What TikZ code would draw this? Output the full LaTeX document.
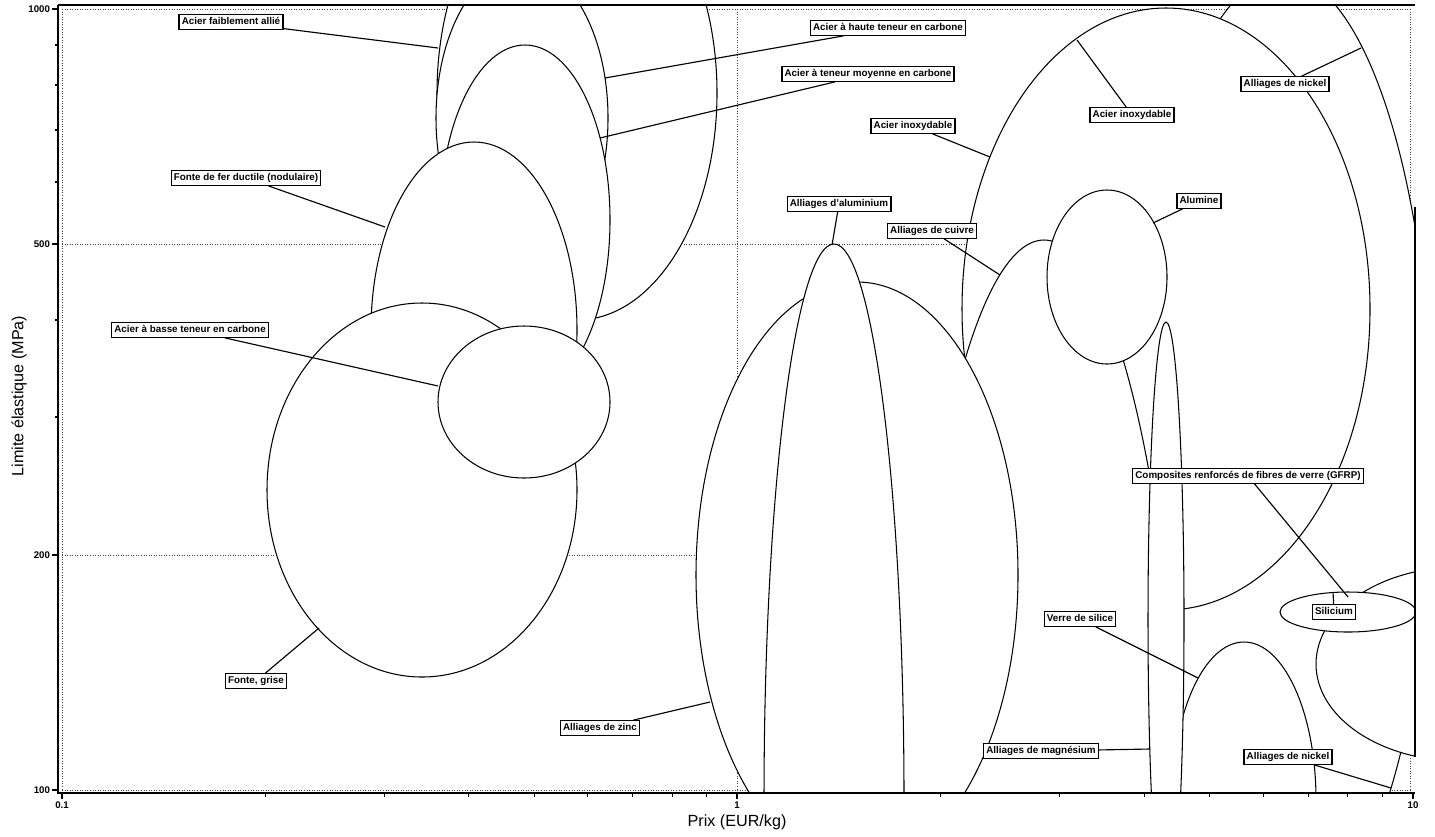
\documentclass[tikz,border=0pt]{standalone}
\usepackage{fontspec}
\setmainfont{Liberation Sans}
\usetikzlibrary{positioning}

\begin{document}
\begin{tikzpicture}[x=0.02cm,y=-0.02cm,
    bubble/.style={draw=black,fill=white,line width=0.6pt},
    lbl/.style={draw=black,fill=white,line width=0.75pt,inner sep=1.5pt,
      text height=4.1pt,text depth=1.1pt,font=\bfseries\fontsize{5.6}{6}\selectfont},
    leader/.style={line width=0.65pt},
    grille/.style={densely dotted,line width=0.45pt,black!75},
    ticklbl/.style={font=\bfseries\fontsize{5.5}{6}\selectfont,inner sep=1pt}]
  \useasboundingbox (0,0) rectangle (1435,836);
  % grid (decades)
  \foreach \gx in {62,737,1410} \draw[grille] (\gx,9) -- (\gx,790);
  \foreach \gy in {9,244,555,790} \draw[grille] (62,\gy) -- (1410,\gy);
  % bubbles, back to front
  \begin{scope}
    \clip (58,5) rectangle (1415,793);
    % steels and cast irons
    \filldraw[bubble] (577,93) ellipse [x radius=140, y radius=227];
    \filldraw[bubble] (522,118) ellipse [x radius=86, y radius=153];
    \filldraw[bubble] (525,220) ellipse [x radius=85, y radius=175];
    \filldraw[bubble] (474,330) ellipse [x radius=103, y radius=188];
    \filldraw[bubble] (422,490) ellipse [x radius=155, y radius=187];
    \filldraw[bubble] (524,402) ellipse [x radius=86, y radius=76];
    % nickel, stainless, copper, alumina
    \filldraw[bubble] (1283,455) ellipse [x radius=150, y radius=480];
    \filldraw[bubble] (1166,309) ellipse [x radius=204, y radius=301];
    \filldraw[bubble] (1044,936) ellipse [x radius=141, y radius=696];
    \filldraw[bubble] (1107,277) ellipse [x radius=60, y radius=87];
    % light alloys, glass, composites
    \filldraw[bubble] (857,575) ellipse [x radius=161, y radius=293];
    \filldraw[bubble] (834,800) ellipse [x radius=70, y radius=556];
    \filldraw[bubble] (1244,800) ellipse [x radius=72, y radius=158];
    \filldraw[bubble] (1166,620) ellipse [x radius=18, y radius=298];
    \filldraw[bubble] (1460,664) ellipse [x radius=144, y radius=97];
    \filldraw[bubble] (1348,612) ellipse [x radius=68, y radius=20];
  \end{scope}
  % axes
  \draw[line width=1.1pt] (58,5) -- (58,793) -- (1415,793);
  \draw[line width=0.8pt] (58,5) -- (1415,5);
  \draw[line width=0.7pt] (1415,207) -- (1415,757);
  \foreach \ty/\tv in {9/1000,244/500,555/200,790/100}{
    \draw[line width=0.8pt] (52,\ty) -- (58,\ty);
    \node[ticklbl,anchor=east] (y\tv) at (52,\ty) {\tv};
  }
  \foreach \ty in {45,85,130,182,320,417} \draw[line width=0.6pt] (55,\ty) -- (58,\ty);
  \foreach \tx/\tv/\tn in {62/0.1/a,737/1/b,1413/10/c}{
    \draw[line width=0.8pt] (\tx,793) -- (\tx,799);
    \node[ticklbl,anchor=north] (x\tn) at (\tx,800) {\tv};
  }
  \foreach \k in {2,...,9}{
    \pgfmathsetmacro\tx{62+675.5*log10(\k)}
    \draw[line width=0.6pt] (\tx,793) -- (\tx,797);
    \draw[line width=0.6pt] (\tx+675.5,793) -- (\tx+675.5,797);
  }
  \node[font=\fontsize{9.2}{11}\selectfont] (xtitre) at (737,822) {Prix (EUR/kg)};
  \node[font=\fontsize{9.2}{11}\selectfont,rotate=90] (ytitre) at (19,396) {Limite élastique (MPa)};
  % leader end points
  \coordinate (p-faible) at (438,48);
  \coordinate (p-haute) at (605,78);
  \coordinate (p-moyen) at (600,138);
  \coordinate (p-inox1) at (990,157);
  \coordinate (p-inox2) at (1077,40);
  \coordinate (p-nickel1) at (1361,48);
  \coordinate (p-ductile) at (385,227);
  \coordinate (p-alu) at (832,245);
  \coordinate (p-cuivre) at (1000,275);
  \coordinate (p-alumine) at (1153,223);
  \coordinate (p-basse) at (438,386);
  \coordinate (p-gfrp) at (1348,597);
  \coordinate (p-silicium) at (1333,592);
  \coordinate (p-verre) at (1198,678);
  \coordinate (p-grise) at (319,628);
  \coordinate (p-zinc) at (710,702);
  \coordinate (p-magnes) at (1150,749);
  \coordinate (p-nickel2) at (1391,788);
  % labels
  \node[lbl] (faible) at (231,22) {Acier faiblement allié};
  \node[lbl] (haute) at (888,28) {Acier à haute teneur en carbone};
  \node[lbl] (moyen) at (868,74) {Acier à teneur moyenne en carbone};
  \node[lbl] (inox1) at (913,126) {Acier inoxydable};
  \node[lbl] (inox2) at (1132,115) {Acier inoxydable};
  \node[lbl] (nickel1) at (1285,84) {Alliages de nickel};
  \node[lbl] (ductile) at (246,178) {Fonte de fer ductile (nodulaire)};
  \node[lbl] (alu) at (839,204) {Alliages d'aluminium};
  \node[lbl] (cuivre) at (932,231) {Alliages de cuivre};
  \node[lbl] (alumine) at (1199,201) {Alumine};
  \node[lbl] (basse) at (190,330) {Acier à basse teneur en carbone};
  \node[lbl] (gfrp) at (1248,476) {Composites renforcés de fibres de verre (GFRP)};
  \node[lbl] (silicium) at (1334,612) {Silicium};
  \node[lbl] (verre) at (1080,619) {Verre de silice};
  \node[lbl] (grise) at (256,681) {Fonte, grise};
  \node[lbl] (zinc) at (600,728) {Alliages de zinc};
  \node[lbl] (magnes) at (1041,751) {Alliages de magnésium};
  \node[lbl] (nickel2) at (1288,757) {Alliages de nickel};
  % leaders
  \foreach \n in {faible,haute,moyen,inox1,inox2,nickel1,ductile,alu,cuivre,
    alumine,basse,gfrp,silicium,verre,grise,zinc,magnes,nickel2}
    \draw[leader] (\n) -- (p-\n);
\end{tikzpicture}
\end{document}
